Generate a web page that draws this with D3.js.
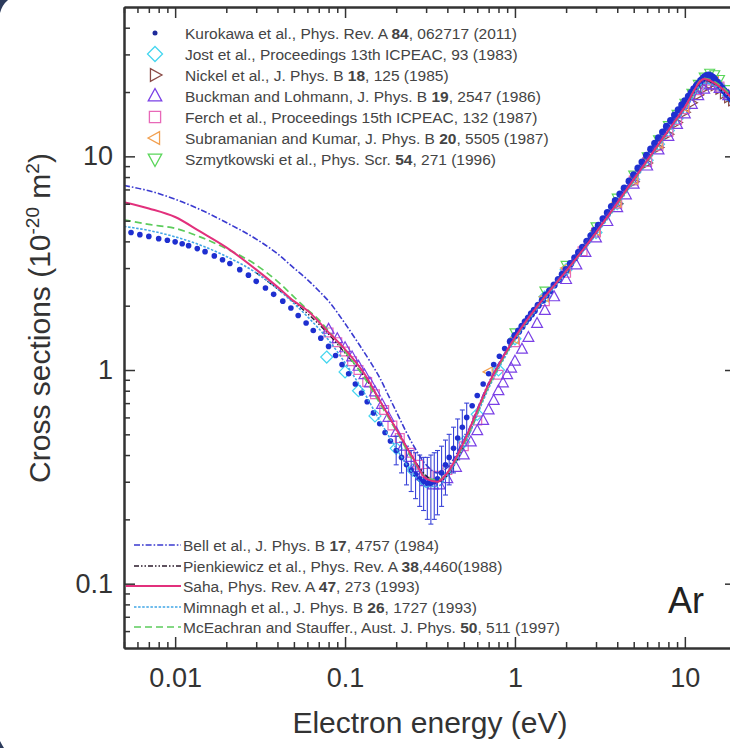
<!DOCTYPE html>
<html>
<head>
<meta charset="utf-8">
<script src="https://cdn.jsdelivr.net/npm/d3@7"></script>
<style>
  html, body { margin: 0; padding: 0; background: #fff; }
  svg { display: block; font-family: "Liberation Sans", Arial, sans-serif; }
</style>
</head>
<body>
<svg id="chart" width="730" height="748"></svg>
<script>
// ---- Data: electron scattering cross sections for Ar (units 1e-20 m^2) ----
// Kurokawa et al. (energy eV, cross section)
const kurokawaE = [0.0055,0.0062,0.007,0.008,0.009,0.010,0.011,0.012,0.0135,0.015,0.017,0.019,0.021,0.024,0.027,0.030,0.034,0.038,0.043,0.048,0.053,0.059,0.065,0.072,0.080,0.088,0.096,0.105,0.115,0.125,0.135,0.147,0.160,0.172,0.185,0.20,0.215,0.23,0.245,0.26,0.275,0.29,0.305,0.32,0.335,0.35,0.37,0.39,0.41,0.435,0.46,0.49,0.52,0.56,0.60,0.65,0.70,0.75,0.81,0.87,0.94,1.0,1.05,1.1,1.15,1.2,1.25,1.3,1.37,1.45,1.52,1.6,1.7,1.8,1.9,2.0,2.12,2.25,2.37,2.5,2.65,2.8,2.95,3.1,3.3,3.5,3.7,3.9,4.15,4.4,4.7,5.0,5.3,5.6,5.95,6.3,6.65,7.0,7.4,7.8,8.25,8.7,9.15,9.6,10.0,10.5,10.9,11.3,11.7,12.0,12.4,12.7,13.0,13.4,13.8,14.2,14.6,15.0,15.5,16.0,16.5,17.0,17.5,18.0,18.5,19.0,19.5,20.0];
const kurokawaQ = [4.40,4.30,4.22,4.12,4.05,3.98,3.90,3.82,3.70,3.58,3.42,3.28,3.15,2.95,2.78,2.60,2.42,2.26,2.10,1.95,1.80,1.66,1.53,1.41,1.29,1.17,1.06,0.96,0.86,0.78,0.71,0.63,0.56,0.51,0.465,0.42,0.39,0.36,0.34,0.325,0.31,0.30,0.295,0.295,0.30,0.31,0.33,0.36,0.39,0.43,0.48,0.54,0.60,0.68,0.76,0.86,0.96,1.06,1.16,1.26,1.36,1.45,1.52,1.60,1.68,1.75,1.83,1.90,2.01,2.12,2.24,2.35,2.50,2.65,2.80,2.95,3.15,3.35,3.55,3.75,4.00,4.25,4.50,4.75,5.10,5.45,5.82,6.20,6.65,7.10,7.65,8.20,8.80,9.40,10.1,10.8,11.5,12.2,13.0,13.8,14.7,15.6,16.5,17.4,18.2,19.1,19.9,20.7,21.4,21.9,22.6,23.0,23.5,23.9,24.0,23.8,23.4,22.9,22.2,21.5,20.9,20.3,19.8,19.3,18.8,18.4,18.0,17.6];
// Kurokawa error bars near the Ramsauer minimum (energy, lower, upper)
const errE    = [0.2,0.215,0.23,0.245,0.26,0.275,0.29,0.305,0.32,0.335,0.35,0.37,0.39,0.41,0.435,0.46,0.49,0.52];
const errLow  = [0.36,0.33,0.29,0.27,0.25,0.23,0.22,0.20,0.19,0.20,0.21,0.23,0.26,0.29,0.33,0.38,0.44,0.50];
const errHigh = [0.49,0.46,0.44,0.42,0.41,0.40,0.39,0.39,0.40,0.41,0.42,0.44,0.47,0.50,0.54,0.59,0.65,0.70];

const jostE = [0.078,0.1,0.12,0.15,0.2,0.25,0.3,0.4,0.5,0.6,0.8,1,1.5,2,3,4,5,6,7,8,9,10,12,14,16,18,20];
const jostQ = [1.15,0.98,0.80,0.61,0.43,0.34,0.30,0.34,0.46,0.62,1.0,1.40,2.2,2.95,4.4,6.0,7.8,9.6,11.4,13.2,15.0,16.8,20.8,23.2,21.4,19.2,17.8];

const nickelE = [4,5,6,7,8,9,10,11,12,13,14,15,16,17,18,19,20];
const nickelQ = [6.0,7.6,9.3,11.0,12.7,14.4,16.1,17.8,19.4,20.8,21.6,21.4,20.6,19.6,18.8,18.2,17.6];

const buckmanE = [0.08,0.09,0.1,0.11,0.12,0.13,0.14,0.15,0.165,0.18,0.2,0.22,0.24,0.26,0.28,0.3,0.33,0.36,0.4,0.45,0.5,0.55,0.6,0.65,0.7,0.75,0.8,0.85,0.9,0.95,1.0,1.1,1.2,1.35,1.5,1.7,2.0,2.3,2.6,3.0,3.5,4.0,4.5,5,6,7,8,9,10,11,12,13,14,15,16,18,20];
const buckmanQ = [1.55,1.40,1.27,1.15,1.04,0.95,0.87,0.79,0.69,0.60,0.51,0.44,0.39,0.35,0.32,0.30,0.29,0.29,0.31,0.35,0.40,0.46,0.52,0.58,0.65,0.72,0.80,0.87,0.95,1.02,1.10,1.25,1.42,1.65,1.90,2.20,2.65,3.10,3.55,4.15,4.95,5.75,6.60,7.40,9.0,10.7,12.4,14.1,15.8,17.5,19.2,20.6,21.6,21.6,20.8,19.2,17.9];

const ferchE = [0.08,0.09,0.1,0.11,0.12,0.135,0.15,0.17,0.19,0.21,0.24,0.27,0.3,0.35,0.4,0.5,0.6,0.8,1.0,1.5,2,2.5,3,4,5,6,7,8,9,10,12,14,16,18,20];
const ferchQ = [1.50,1.35,1.22,1.10,1.00,0.88,0.77,0.65,0.55,0.48,0.41,0.36,0.33,0.32,0.34,0.44,0.58,0.95,1.35,2.1,2.85,3.6,4.4,6.0,7.7,9.4,11.2,13.0,14.8,16.6,20.4,22.6,21.2,19.4,18.0];

const subraE = [0.7,1.0,1.5,2,3,4,5,7,10,15,20];
const subraQ = [0.98,1.40,2.2,3.0,4.5,6.1,7.8,11.5,17.0,22.4,18.0];

const szmytE = [1,1.5,2,3,4,5,6,7,8,9,10,11,12,13,14,15,16,18,20];
const szmytQ = [1.5,2.35,3.1,4.7,6.4,8.2,10.0,12.0,14.0,15.8,17.8,19.8,21.8,23.6,24.6,24.2,23.0,20.6,18.8];

// Theory curves
const bellE = [0.005,0.007,0.01,0.015,0.02,0.03,0.04,0.05,0.06,0.07,0.08,0.1,0.12,0.14,0.16,0.18,0.2,0.25,0.3,0.35,0.4,0.5,0.7,1,2,3,5,7,10,13,16,20];
const bellQ = [7.3,6.9,6.3,5.5,4.9,4.1,3.5,3.0,2.65,2.35,2.1,1.65,1.33,1.10,0.92,0.76,0.64,0.45,0.36,0.33,0.35,0.47,0.87,1.44,3.0,4.6,8.0,11.8,17.2,22.6,21.0,17.8];

const pienkE = [0.03,0.04,0.05,0.06,0.08,0.1,0.13,0.16,0.2,0.25,0.3,0.35,0.4,0.5,0.7,1,1.5,2,3,5,7,10,13,16,20];
const pienkQ = [2.85,2.40,2.08,1.84,1.47,1.20,0.93,0.72,0.53,0.39,0.32,0.30,0.32,0.44,0.84,1.40,2.2,2.9,4.4,7.7,11.3,16.8,22.8,20.8,17.6];

const sahaE = [0.005,0.007,0.01,0.014,0.02,0.03,0.04,0.05,0.06,0.08,0.1,0.13,0.16,0.2,0.25,0.3,0.35,0.4,0.5,0.7,1,1.5,2,3,5,7,10,13,16,20];
const sahaQ = [6.1,5.7,5.2,4.45,3.75,2.95,2.45,2.1,1.9,1.5,1.25,0.96,0.72,0.53,0.39,0.31,0.30,0.33,0.46,0.86,1.42,2.2,2.9,4.4,7.8,11.4,17.0,23.0,21.2,17.8];

const mimnaghE = [0.005,0.007,0.01,0.014,0.02,0.03,0.04,0.05,0.06,0.08,0.1,0.13,0.16,0.2,0.25,0.3,0.35,0.4,0.5,0.7,1,1.5,2,3,5,7,10,13,16,20];
const mimnaghQ = [4.7,4.5,4.2,3.85,3.4,2.85,2.4,2.05,1.78,1.38,1.08,0.78,0.58,0.43,0.33,0.285,0.285,0.32,0.44,0.82,1.38,2.15,2.85,4.3,7.6,11.1,16.5,22.0,20.8,17.6];

const mceE = [0.005,0.007,0.01,0.014,0.02,0.03,0.04,0.05,0.06,0.07,0.08,0.1,0.13,0.16,0.2,0.25,0.3,0.35,0.4,0.5,0.7,1,1.5,2,3,5,7,10,13,16,20];
const mceQ = [5.05,4.8,4.6,4.2,3.7,3.1,2.6,2.2,1.92,1.72,1.52,1.22,0.92,0.70,0.52,0.38,0.315,0.305,0.33,0.45,0.84,1.40,2.2,2.9,4.4,7.7,11.3,17.0,23.2,21.6,18.2];

// Axis ticks
const xMajor = [0.01, 0.1, 1, 10];
const xMajorLabels = ["0.01", "0.1", "1", "10"];
const xMinor = [0.005,0.006,0.007,0.008,0.009,0.02,0.03,0.04,0.05,0.06,0.07,0.08,0.09,0.2,0.3,0.4,0.5,0.6,0.7,0.8,0.9,2,3,4,5,6,7,8,9];
const yMajor = [0.1, 1, 10];
const yMajorLabels = ["0.1", "1", "10"];
const yMinor = [0.06,0.07,0.08,0.09,0.2,0.3,0.4,0.5,0.6,0.7,0.8,0.9,2,3,4,5,6,7,8,9,20,30,40];

// Legend texts: segments [text, bold]
const markerLegend = [
  [["Kurokawa et al., Phys. Rev. A ",0],["84",1],[", 062717 (2011)",0]],
  [["Jost et al., Proceedings 13th ICPEAC, 93 (1983)",0]],
  [["Nickel et al., J. Phys. B ",0],["18",1],[", 125 (1985)",0]],
  [["Buckman and Lohmann, J. Phys. B ",0],["19",1],[", 2547 (1986)",0]],
  [["Ferch et al., Proceedings 15th ICPEAC, 132 (1987)",0]],
  [["Subramanian and Kumar, J. Phys. B ",0],["20",1],[", 5505 (1987)",0]],
  [["Szmytkowski et al., Phys. Scr. ",0],["54",1],[", 271 (1996)",0]]
];
const lineLegend = [
  [["Bell et al., J. Phys. B ",0],["17",1],[", 4757 (1984)",0]],
  [["Pienkiewicz et al., Phys. Rev. A ",0],["38",1],[",4460(1988)",0]],
  [["Saha, Phys. Rev. A ",0],["47",1],[", 273 (1993)",0]],
  [["Mimnagh et al., J. Phys. B ",0],["26",1],[", 1727 (1993)",0]],
  [["McEachran and Stauffer., Aust. J. Phys. ",0],["50",1],[", 511 (1997)",0]]
];

// ---- Drawing ----
const svg = d3.select("#chart");
const W = 730, H = 748;
const plot = {left: 124, right: 736, top: 7, bottom: 648};
const x = d3.scaleLog().domain([0.005, 20]).range([plot.left, plot.right]);
const y = d3.scaleLog().domain([0.05, 50]).range([plot.bottom, plot.top]);
const ink = "#333";

// page background with dark rounded corners on the left
svg.append("rect").attr("width", W).attr("height", H).attr("fill", "#fff");
svg.append("path").attr("d", "M0,0 L8,0 Q2,5 0,13 Z").attr("fill", "#2c3b5c");
svg.append("path").attr("d", "M0,741 Q2,745 4,748 L0,748 Z").attr("fill", "#2c3b5c");

svg.append("defs").append("clipPath").attr("id", "clip")
  .append("rect").attr("x", plot.left).attr("y", plot.top)
  .attr("width", plot.right - plot.left).attr("height", plot.bottom - plot.top);

const g = svg.append("g").attr("clip-path", "url(#clip)");

// marker shapes
function markerPath(shape, h) {
  switch (shape) {
    case "diamond": return `M0,${-h}L${h},0L0,${h}L${-h},0Z`;
    case "square": return `M${-h*0.8},${-h*0.8}H${h*0.8}V${h*0.8}H${-h*0.8}Z`;
    default: return `M0,${-h}L${h*0.9},${h*0.65}L${-h*0.9},${h*0.65}Z`;
  }
}
const rot = {up: 0, right: 90, left: -90, down: 180};

const markerSets = [
  {E: jostE, Q: jostQ, shape: "diamond", dir: "up", color: "#45d6ef", h: 6},
  {E: nickelE, Q: nickelQ, shape: "tri", dir: "right", color: "#8a4a46", h: 5.5},
  {E: ferchE, Q: ferchQ, shape: "square", dir: "up", color: "#e868b8", h: 5.5},
  {E: buckmanE, Q: buckmanQ, shape: "tri", dir: "up", color: "#7a40e6", h: 6},
  {E: subraE, Q: subraQ, shape: "tri", dir: "left", color: "#f2a050", h: 5.5},
  {E: szmytE, Q: szmytQ, shape: "tri", dir: "down", color: "#5ad65a", h: 5.5}
];

markerSets.forEach(s => {
  g.append("g").selectAll("path").data(s.E.map((e, i) => [e, s.Q[i]])).join("path")
    .attr("d", markerPath(s.shape, s.h))
    .attr("transform", d => `translate(${x(d[0])},${y(d[1])}) rotate(${rot[s.dir]})`)
    .attr("fill", "none").attr("stroke", s.color).attr("stroke-width", 1.2);
});

// Kurokawa error bars and points
const kColor = "#1e2fd0";
const eb = g.append("g").attr("stroke", "#3a44d8").attr("stroke-width", 1.1);
errE.forEach((e, i) => {
  const cx = x(e);
  eb.append("line").attr("x1", cx).attr("x2", cx).attr("y1", y(errLow[i])).attr("y2", y(errHigh[i]));
  eb.append("line").attr("x1", cx - 2.5).attr("x2", cx + 2.5).attr("y1", y(errLow[i])).attr("y2", y(errLow[i]));
  eb.append("line").attr("x1", cx - 2.5).attr("x2", cx + 2.5).attr("y1", y(errHigh[i])).attr("y2", y(errHigh[i]));
});
g.append("g").selectAll("circle").data(kurokawaE.map((e, i) => [e, kurokawaQ[i]])).join("circle")
  .attr("cx", d => x(d[0])).attr("cy", d => y(d[1]))
  .attr("r", d => d[0] > 0.9 ? 3.6 : 2.8).attr("fill", kColor);

// theory curves
const lineSets = [
  {E: bellE, Q: bellQ, color: "#3a3ad0", dash: "6,2,1.6,2", w: 1.6},
  {E: pienkE, Q: pienkQ, color: "#2a1a2a", dash: "5,2,1.5,2,1.5,2", w: 1.3},
  {E: mimnaghE, Q: mimnaghQ, color: "#40a6e6", dash: "2.5,1.6", w: 1.6},
  {E: mceE, Q: mceQ, color: "#5ccc5c", dash: "7,4", w: 1.7},
  {E: sahaE, Q: sahaQ, color: "#e2307c", dash: null, w: 2}
];
const lineGen = d3.line().x(d => x(d[0])).y(d => y(d[1])).curve(d3.curveMonotoneX);
lineSets.forEach(s => {
  g.append("path").datum(s.E.map((e, i) => [e, s.Q[i]]))
    .attr("d", lineGen).attr("fill", "none")
    .attr("stroke", s.color).attr("stroke-width", s.w)
    .attr("stroke-dasharray", s.dash);
});

// ---- Axes (ticks point inward on all four sides) ----
function styleAxis(sel) {
  sel.selectAll("path").attr("stroke", ink).attr("stroke-width", 2);
  sel.selectAll("line").attr("stroke", ink).attr("stroke-width", 1.5);
  sel.selectAll("text").attr("fill", ink)
    .attr("font-family", "'Liberation Sans', Arial, sans-serif").attr("font-size", 27);
}
const fmt = (vals, labels) => v => labels[vals.indexOf(v)];

svg.append("g").attr("transform", `translate(0,${plot.bottom})`)
  .call(d3.axisBottom(x).tickValues(xMajor).tickFormat(fmt(xMajor, xMajorLabels)).tickSizeInner(-11).tickSizeOuter(0).tickPadding(20))
  .call(styleAxis);
svg.append("g").attr("transform", `translate(0,${plot.bottom})`)
  .call(d3.axisBottom(x).tickValues(xMinor).tickFormat("").tickSizeInner(-6).tickSizeOuter(0))
  .call(styleAxis);
svg.append("g").attr("transform", `translate(0,${plot.top})`)
  .call(d3.axisTop(x).tickValues(xMajor).tickFormat("").tickSizeInner(-11).tickSizeOuter(0))
  .call(styleAxis);
svg.append("g").attr("transform", `translate(0,${plot.top})`)
  .call(d3.axisTop(x).tickValues(xMinor).tickFormat("").tickSizeInner(-6).tickSizeOuter(0))
  .call(styleAxis);
svg.append("g").attr("transform", `translate(${plot.left},0)`)
  .call(d3.axisLeft(y).tickValues(yMajor).tickFormat(fmt(yMajor, yMajorLabels)).tickSizeInner(-11).tickSizeOuter(0).tickPadding(11))
  .call(styleAxis);
svg.append("g").attr("transform", `translate(${plot.left},0)`)
  .call(d3.axisLeft(y).tickValues(yMinor).tickFormat("").tickSizeInner(-6).tickSizeOuter(0))
  .call(styleAxis);
svg.append("g").attr("transform", `translate(${plot.right},0)`)
  .call(d3.axisRight(y).tickValues(yMajor).tickFormat("").tickSizeInner(-11).tickSizeOuter(0))
  .call(styleAxis);
svg.append("g").attr("transform", `translate(${plot.right},0)`)
  .call(d3.axisRight(y).tickValues(yMinor).tickFormat("").tickSizeInner(-6).tickSizeOuter(0))
  .call(styleAxis);

// axis titles
svg.append("text").attr("x", (plot.left + plot.right) / 2).attr("y", 733)
  .attr("text-anchor", "middle").attr("font-size", 30).attr("fill", ink)
  .text("Electron energy (eV)");
const yt = svg.append("text").attr("transform", "translate(50,318) rotate(-90)")
  .attr("text-anchor", "middle").attr("font-size", 30).attr("fill", ink);
yt.append("tspan").text("Cross sections (10");
yt.append("tspan").attr("dy", -11).attr("font-size", 19).text("-20");
yt.append("tspan").attr("dy", 11).text(" m");
yt.append("tspan").attr("dy", -11).attr("font-size", 19).text("2");
yt.append("tspan").attr("dy", 11).text(")");

// "Ar" label
svg.append("text").attr("x", 668).attr("y", 613).attr("font-size", 36).attr("fill", "#222").text("Ar");

// ---- Legends ----
function legendText(sel, parts) {
  parts.forEach(p => sel.append("tspan").attr("font-weight", p[1] ? "bold" : null).text(p[0]));
}
const mk = [
  {shape: "dot", color: "#1e2a9a"},
  {shape: "diamond", dir: "up", color: "#45d6ef", h: 7.5},
  {shape: "tri", dir: "right", color: "#8a4a46", h: 7},
  {shape: "tri", dir: "up", color: "#7a40e6", h: 7.5},
  {shape: "square", dir: "up", color: "#e868b8", h: 7},
  {shape: "tri", dir: "left", color: "#f2a050", h: 7},
  {shape: "tri", dir: "down", color: "#5ad65a", h: 7.5}
];
const upperRows = [33, 54, 75, 96, 117, 138, 159];
markerLegend.forEach((parts, i) => {
  const cy = upperRows[i], m = mk[i];
  if (m.shape === "dot") {
    svg.append("circle").attr("cx", 155).attr("cy", cy).attr("r", 2.5).attr("fill", m.color);
  } else {
    svg.append("path").attr("d", markerPath(m.shape, m.h))
      .attr("transform", `translate(155,${cy}) rotate(${rot[m.dir]})`)
      .attr("fill", "none").attr("stroke", m.color).attr("stroke-width", 1.3);
  }
  const t = svg.append("text").attr("x", 185).attr("y", cy + 5.5)
    .attr("font-size", 15.5).attr("fill", "#444");
  legendText(t, parts);
});

const lowerRows = [545, 566, 586, 607, 627];
lineLegend.forEach((parts, i) => {
  const cy = lowerRows[i], s = lineSets[[0, 1, 4, 2, 3][i]];
  svg.append("line").attr("x1", i === 2 ? 126 : 134).attr("x2", 181).attr("y1", cy).attr("y2", cy)
    .attr("stroke", s.color).attr("stroke-width", s.w).attr("stroke-dasharray", s.dash);
  const t = svg.append("text").attr("x", 183).attr("y", cy + 5.5)
    .attr("font-size", 15.5).attr("fill", "#444");
  legendText(t, parts);
});
</script>
</body>
</html>
